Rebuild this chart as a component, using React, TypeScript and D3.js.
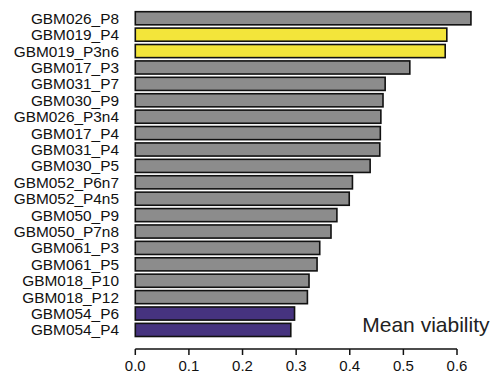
import React from "react";
import * as d3 from "d3";

const samples = [
  "GBM026_P8", "GBM019_P4", "GBM019_P3n6", "GBM017_P3", "GBM031_P7",
  "GBM030_P9", "GBM026_P3n4", "GBM017_P4", "GBM031_P4", "GBM030_P5",
  "GBM052_P6n7", "GBM052_P4n5", "GBM050_P9", "GBM050_P7n8", "GBM061_P3",
  "GBM061_P5", "GBM018_P10", "GBM018_P12", "GBM054_P6", "GBM054_P4",
];
const meanViability = [
  0.626, 0.581, 0.578, 0.512, 0.466,
  0.462, 0.458, 0.457, 0.456, 0.438,
  0.405, 0.399, 0.376, 0.365, 0.344,
  0.339, 0.324, 0.321, 0.297, 0.290,
];
const groups = [
  "other", "high", "high", "other", "other",
  "other", "other", "other", "other", "other",
  "other", "other", "other", "other", "other",
  "other", "other", "other", "low", "low",
];
const xTicks = [0, 0.1, 0.2, 0.3, 0.4, 0.5, 0.6];
const axisTitle = "Mean viability";

const groupColor: Record<string, string> = {
  other: "#8c8c8c",
  high: "#f3e53a",
  low: "#46337f",
};

export default function App() {
  const width = 494;
  const height = 375;
  const x = d3.scaleLinear().domain([0, 0.6]).range([135.3, 457]);
  const y = d3.scaleBand<string>().domain(samples).range([11.7, 336.5]).paddingInner(0.2).paddingOuter(0);
  const axisY = 349;
  const font = "'Liberation Sans', Arial, sans-serif";

  return (
    <svg width={width} height={height} style={{ position: "absolute", left: 0, top: 0, background: "#fff" }} fontFamily={font}>
      {samples.map((s, i) => (
        <g key={s}>
          <rect
            x={x(0)}
            y={y(s)!}
            width={x(meanViability[i]) - x(0)}
            height={y.bandwidth()}
            fill={groupColor[groups[i]]}
            stroke="#111"
            strokeWidth={1.6}
          />
          <text
            x={119}
            y={y(s)! + y.bandwidth() / 2}
            dy="0.36em"
            textAnchor="end"
            fontSize={15.4}
            fill="#111"
          >
            {s}
          </text>
        </g>
      ))}
      <line x1={x(0)} x2={x(0.6)} y1={axisY} y2={axisY} stroke="#111" strokeWidth={1.5} />
      {xTicks.map((t) => (
        <g key={t}>
          <line x1={x(t)} x2={x(t)} y1={axisY} y2={axisY + 6} stroke="#111" strokeWidth={1.5} />
          <text x={x(t)} y={371} textAnchor="middle" fontSize={15} fill="#111">
            {d3.format(".1f")(t)}
          </text>
        </g>
      ))}
      <text x={489.5} y={331.7} textAnchor="end" fontSize={21} fill="#222">
        {axisTitle}
      </text>
    </svg>
  );
}
